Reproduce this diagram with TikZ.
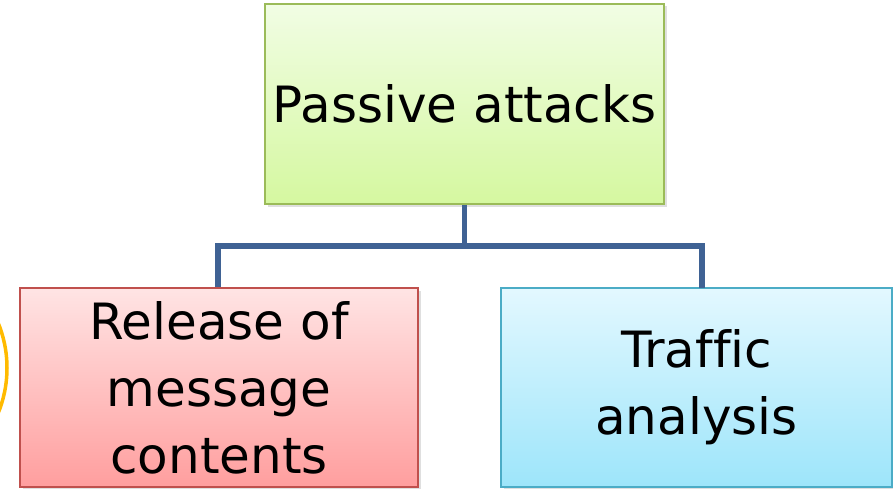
\documentclass[tikz,border=0pt]{standalone}
\usepackage{fontspec}
\setmainfont[Ligatures={NoCommon}]{DejaVu Sans}
\usetikzlibrary{shadows,calc}

\definecolor{grnTop}{HTML}{F1FDE4}
\definecolor{grnBot}{HTML}{D5F8A0}
\definecolor{grnLine}{HTML}{9BBB59}
\definecolor{redTop}{HTML}{FFE4E4}
\definecolor{redBot}{HTML}{FF9E9E}
\definecolor{redLine}{HTML}{C0504D}
\definecolor{bluTop}{HTML}{E3F8FF}
\definecolor{bluBot}{HTML}{9DE5FA}
\definecolor{bluLine}{HTML}{4BACC6}
\definecolor{connCol}{HTML}{3F6294}
\definecolor{ringCol}{HTML}{FFBA00}

\tikzset{
  box/.style={draw, line width=1.8pt, rectangle, inner sep=0pt,
    align=center, font=\fontsize{50}{67}\selectfont,
    drop shadow={shadow xshift=2.5pt, shadow yshift=-2.5pt, opacity=0.25}},
  greenbox/.style={box, draw=grnLine, top color=grnTop, bottom color=grnBot},
  redbox/.style={box, draw=redLine, top color=redTop, bottom color=redBot},
  bluebox/.style={box, draw=bluLine, top color=bluTop, bottom color=bluBot},
  conn/.style={draw=connCol, line width=5.5pt},
}

\begin{document}
\begin{tikzpicture}[x=1pt, y=-1pt]
  \useasboundingbox (0,0) rectangle (893,489);

  % boxes
  \node[greenbox, minimum width=399pt, minimum height=200pt] (top) at (464.5,104) {Passive attacks};
  \node[redbox, minimum width=398pt, minimum height=199pt] (left) at (219,387.5) {Release of\\message\\contents};
  \node[bluebox, minimum width=391pt, minimum height=199pt] (right) at (696.5,387.5) {Traffic\\analysis};

  % tree connector
  \coordinate (hub) at (464.5,246);
  \coordinate (rtop) at (702,288);
  \draw[conn] (top.south) -- (hub);
  \draw[conn] ([xshift=-1pt]left.north) |- (hub) -| (rtop);

  % partial ring at the left edge
  \begin{scope}
    \clip (0,300) rectangle (20,440);
    \draw[ringCol, line width=3.5pt] (-112,368) circle (119);
  \end{scope}
\end{tikzpicture}
\end{document}
